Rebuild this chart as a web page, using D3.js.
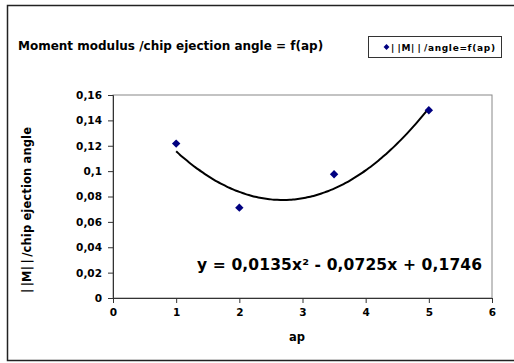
<!DOCTYPE html>
<html>
<head>
<meta charset="utf-8">
<script src="https://cdn.jsdelivr.net/npm/d3@7"></script>
<style>
  body { margin: 0; background: #fff; }
  text { font-family: Verdana, "DejaVu Sans", sans-serif; font-weight: bold; }
</style>
</head>
<body>
<script>
// data
var apValues = [1, 2, 3.5, 5];
var ratioValues = [0.1217, 0.0712, 0.0975, 0.148];
var xTicks = [0, 1, 2, 3, 4, 5, 6];
var yTicks = [0, 0.02, 0.04, 0.06, 0.08, 0.1, 0.12, 0.14, 0.16];
// polynomial trend line coefficients (a x^2 + b x + c), from the chart label
var trendCoef = [0.0135, -0.0725, 0.1746];

var W = 514, H = 363;
var margin = {left: 113, right: 22, top: 95, bottom: 65};
var width = W - margin.left - margin.right;
var height = H - margin.top - margin.bottom;

var svg = d3.select("body")
  .append("svg")
  .attr("width", W)
  .attr("height", H);

// outer frame
svg.append("rect")
  .attr("x", 7.5).attr("y", 5.5)
  .attr("width", W + 10).attr("height", 355)
  .attr("fill", "none")
  .attr("stroke", "#222")
  .attr("stroke-width", 1.5);

var g = svg.append("g")
  .attr("transform", "translate(" + margin.left + "," + margin.top + ")");

var x = d3.scaleLinear().domain([0, 6]).range([0, width]);
var y = d3.scaleLinear().domain([0, 0.16]).range([height, 0]);

// plot area border (top/right grey)
g.append("rect")
  .attr("x", 0).attr("y", 0)
  .attr("width", width).attr("height", height)
  .attr("fill", "none")
  .attr("stroke", "#888")
  .attr("stroke-width", 1);

var fmt = function(d) { return String(+d.toFixed(2)).replace(".", ","); };

var xAxis = g.append("g")
  .attr("transform", "translate(0," + height + ")")
  .call(d3.axisBottom(x).tickValues(xTicks).tickSize(5).tickPadding(6).tickFormat(function(d) { return d; }));

var yAxis = g.append("g")
  .call(d3.axisLeft(y).tickValues(yTicks).tickSize(5).tickPadding(6).tickFormat(fmt));

[xAxis, yAxis].forEach(function(a) {
  a.select(".domain").attr("stroke", "#333");
  a.selectAll(".tick line").attr("stroke", "#333");
  a.selectAll("text")
    .attr("font-family", "Verdana, 'DejaVu Sans', sans-serif")
    .attr("font-weight", "bold")
    .attr("font-size", "10.5px")
    .attr("fill", "#000");
});

// trend line
var trendX = d3.range(apValues[0], apValues[apValues.length - 1] + 0.001, 0.05);
var line = d3.line()
  .x(function(d) { return x(d); })
  .y(function(d) { return y(trendCoef[0] * d * d + trendCoef[1] * d + trendCoef[2]); })
  .curve(d3.curveBasis);

g.append("path")
  .datum(trendX)
  .attr("d", line)
  .attr("fill", "none")
  .attr("stroke", "#000")
  .attr("stroke-width", 2);

// points
var diamond = d3.symbol().type(d3.symbolDiamond2).size(45);
g.selectAll(".pt")
  .data(apValues)
  .enter()
  .append("path")
  .attr("class", "pt")
  .attr("d", diamond)
  .attr("transform", function(d, i) { return "translate(" + x(d) + "," + y(ratioValues[i]) + ")"; })
  .attr("fill", "#000080");

// equation
g.append("text")
  .attr("x", x(1.33))
  .attr("y", y(0.0223))
  .attr("font-size", "15.5px")
  .attr("textLength", 285)
  .text("y = 0,0135x\u00b2 - 0,0725x + 0,1746");

// title
svg.append("text")
  .attr("x", 18)
  .attr("y", 50)
  .attr("font-size", "12px")
  .text("Moment modulus /chip ejection angle = f(ap)");

// legend
var leg = svg.append("g").attr("transform", "translate(368,36)");
leg.append("rect")
  .attr("x", 0.5).attr("y", 0.5)
  .attr("width", 133).attr("height", 21)
  .attr("fill", "#fff")
  .attr("stroke", "#333");
leg.append("path")
  .attr("d", d3.symbol().type(d3.symbolDiamond2).size(22))
  .attr("transform", "translate(18.5,11)")
  .attr("fill", "#000080");
leg.append("text")
  .attr("x", 23)
  .attr("y", 14.5)
  .attr("font-size", "9px")
  .attr("textLength", 104)
  .text("|\u2009|M|\u2009|\u2009/angle=f(ap)");

// axis labels
svg.append("text")
  .attr("x", 297)
  .attr("y", 341)
  .attr("text-anchor", "middle")
  .attr("font-size", "11.5px")
  .text("ap");

svg.append("text")
  .attr("transform", "translate(31,210) rotate(-90)")
  .attr("text-anchor", "middle")
  .attr("font-size", "11.5px")
  .attr("textLength", 166)
  .text("|\u2009|M|\u2009|\u2009/chip ejection angle");
</script>
</body>
</html>
